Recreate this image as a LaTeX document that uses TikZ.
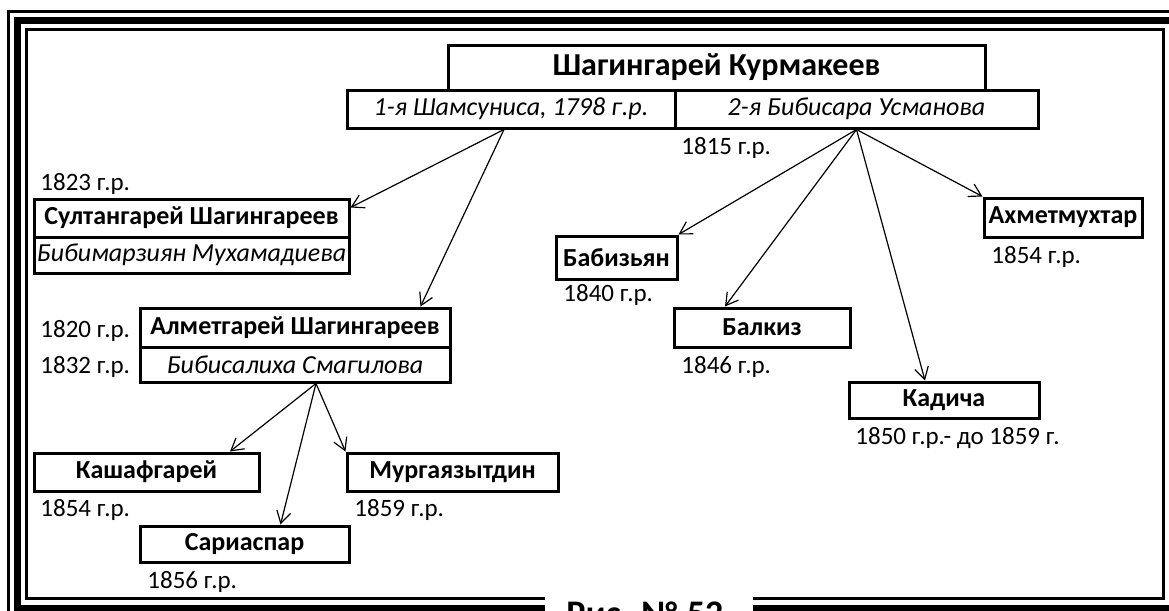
\documentclass[tikz,border=0pt]{standalone}
\usepackage{fontspec}
\setmainfont{Carlito}
\usepackage{tikz}
\usetikzlibrary{positioning, arrows.meta}

\begin{document}
\begin{tikzpicture}[x=0.5pt,y=-0.5pt,
        box/.style={draw=black,line width=1.5pt,inner sep=0pt,minimum height=19pt,font=\fontsize{13}{15}\selectfont\bfseries},
        wife/.style={box,font=\fontsize{13}{15}\selectfont\itshape},
        head/.style={box,minimum height=22.5pt,font=\fontsize{16}{19}\selectfont\bfseries},
        year/.style={anchor=west,inner sep=0pt,font=\fontsize{12.5}{15}\selectfont},
        child/.style={-{Straight Barb[length=6pt,width=7pt]},line width=0.6pt}]
        \useasboundingbox (0,0) rectangle (1169,611);
        \clip (0,0) rectangle (1169,611);
        % frame
        \draw[line width=1.5pt] (8.5,700) |- (1200,11.5);
        \draw[line width=3.5pt] (545,608) -| (17.5,20.5) -- (1200,20.5)
                                (753,608) -- (1200,608);
        \draw[line width=1.75pt] (545,598.5) -| (26.5,29.5) -| (1163.5,598.5) -- (753,598.5);
        \node[anchor=base,inner sep=0pt,font=\fontsize{18}{21}\selectfont\bfseries] (cap) at (645,625) {Рис. № 52};

        % parents
        \node[head, minimum width=268.5pt] (sh) at (716.5,67.5) {Шагингарей Курмакеев};
        \node[wife, minimum width=164pt] (w1) at (511,109) {1-я Шамсуниса, 1798 г.р.};
        \node[wife, minimum width=181.5pt] (w2) at (856.5,109) {2-я Бибисара Усманова};

        % children of the first wife
        \node[box, minimum width=157.5pt] (sult) at (191.5,218) {Султангарей Шагингареев};
        \node[wife, minimum width=157.5pt, minimum height=18pt] (sultw) at (191.5,255) {Бибимарзиян Мухамадиева};
        \node[box, minimum width=155pt, minimum height=19.5pt] (alm) at (295,327.5) {Алметгарей Шагингареев};
        \node[wife, minimum width=155pt, minimum height=17.5pt] (almw) at (295,364.5) {Бибисалиха Смагилова};
        \node[box, minimum width=112.5pt] (kash) at (146.5,472) {Кашафгарей};
        \node[box, minimum width=105.5pt] (murg) at (452.5,472) {Мургаязытдин};
        \node[box, minimum width=104.5pt, minimum height=18pt] (sar) at (244.5,544) {Сариаспар};

        % children of the second wife
        \node[box, minimum width=60.5pt, minimum height=21.5pt] (bab) at (616.5,257.5) {Бабизьян};
        \node[box, minimum width=88pt, minimum height=19.5pt] (balk) at (762,327.5) {Балкиз};
        \node[box, minimum width=95pt, minimum height=18pt] (kad) at (944,400) {Кадича};
        \node[box, minimum width=79pt, minimum height=19.5pt] (akh) at (1063,217.5) {Ахметмухтар};

        % years
        \node[year] (y1815) at (681,148) {1815 г.р.};
        \node[year] (y1823) at (40,184) {1823 г.р.};
        \node[year] (y1820) at (40,331) {1820 г.р.};
        \node[year] (y1832) at (40,367) {1832 г.р.};
        \node[year] (y1854a) at (40,510) {1854 г.р.};
        \node[year] (y1859) at (354,510) {1859 г.р.};
        \node[year] (y1856) at (147,582) {1856 г.р.};
        \node[year] (y1840) at (563,295) {1840 г.р.};
        \node[year] (y1846) at (681,367) {1846 г.р.};
        \node[year] (y1850) at (855,438) {1850 г.р.- до 1859 г.};
        \node[year] (y1854b) at (991,257) {1854 г.р.};

        \path[child] ([xshift=-3.5pt]w1.south) edge [] ([yshift=-5pt]sult.north east)
                     ([xshift=-3.5pt]w1.south) edge [] ([xshift=-15.5pt]alm.north east)
                     (w2.south) edge [] (bab.north east)
                     (w2.south) edge [] ([xshift=-18.5pt]balk.north)
                     (w2.south) edge [] ([xshift=-9.5pt]kad.north)
                     (w2.south) edge [] (akh.north west)
                     ([xshift=10.5pt]almw.south) edge [] ([xshift=41.75pt]kash.north)
                     ([xshift=10.5pt]almw.south) edge [] ([xshift=18pt]sar.north)
                     ([xshift=10.5pt]almw.south) edge [] (murg.north west);
\end{tikzpicture}
\end{document}
